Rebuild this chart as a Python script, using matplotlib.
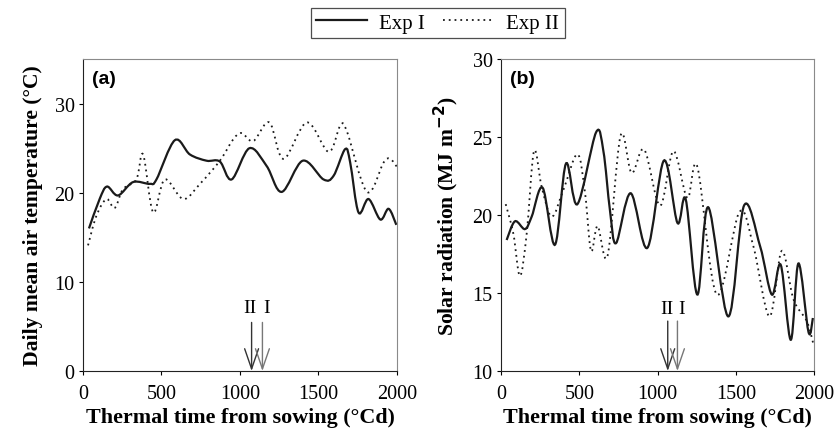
import matplotlib
matplotlib.use("Agg")
import matplotlib.pyplot as plt
from matplotlib.lines import Line2D
from matplotlib.path import Path
from matplotlib.patches import PathPatch

# (a) daily mean air temperature
tempI_x = [38, 106, 153, 223, 319, 426, 468, 585, 681, 787, 872, 947, 1060, 1170, 1266,
           1400, 1532, 1596, 1670, 1702, 1755, 1819, 1894, 1947, 1996]
tempI_y = [16.0, 19.3, 20.7, 19.7, 21.2, 21.0, 21.5, 25.9, 24.3, 23.6, 23.5, 21.5, 25.0, 23.0, 20.1,
           23.6, 21.5, 21.9, 24.9, 23.4, 17.8, 19.3, 17.0, 18.2, 16.4]
tempII_x = [32, 85, 149, 202, 255, 340, 383, 447, 521, 638, 745, 872, 957, 1011, 1085,
            1187, 1277, 1426, 1564, 1638, 1681, 1809, 1915, 1957, 2000]
tempII_y = [14.1, 17.4, 19.3, 18.3, 20.4, 21.5, 24.3, 17.8, 21.5, 19.3, 21.0, 23.6, 26.0, 26.7, 25.8,
            27.9, 23.8, 27.9, 24.6, 27.5, 26.9, 20.1, 23.4, 23.8, 22.9]

# (b) solar radiation
radI_x = [36, 89, 153, 196, 266, 345, 415, 488, 607, 654, 696, 735, 828, 935, 1041, 1127, 1180,
          1254, 1324, 1452, 1552, 1655, 1730, 1787, 1851, 1900, 1964, 1992]
radI_y = [18.4, 19.6, 19.1, 19.9, 21.75, 18.1, 23.3, 20.7, 25.3, 24.1, 20.3, 18.2, 21.4, 17.9, 23.5, 19.5, 21.0,
          14.9, 20.5, 13.5, 20.6, 18.0, 14.9, 16.8, 12.0, 16.9, 12.5, 13.4]
radII_x = [30, 79, 121, 164, 211, 260, 324, 398, 488, 537, 575, 617, 681, 764, 834, 915, 1016,
           1101, 1190, 1254, 1378, 1523, 1612, 1715, 1793, 1868, 1953, 1996]
radII_y = [20.7, 18.8, 16.1, 18.8, 24.1, 21.8, 19.9, 21.6, 23.9, 21.4, 17.7, 19.3, 17.4, 25.1, 22.7, 24.2, 20.6,
           24.1, 21.1, 23.1, 14.9, 20.2, 18.0, 13.5, 17.7, 14.6, 13.2, 11.7]

# anthesis markers (Exp II, Exp I)
marks_a = [1074, 1143]
marks_b = [1065, 1127]
mark_labels = ["II", "I"]

serif = "Liberation Serif"
sans = "Liberation Sans"
dots = (0, (1, 2.2))


def smooth_line(ax, xs, ys, **kw):
    # Excel-style smoothed line: bezier segments through the points
    n = len(xs)
    verts = [(xs[0], ys[0])]
    codes = [Path.MOVETO]
    for i in range(n - 1):
        i0 = max(i - 1, 0)
        i3 = min(i + 2, n - 1)
        c1 = (xs[i] + (xs[i + 1] - xs[i0]) / 6, ys[i] + (ys[i + 1] - ys[i0]) / 6)
        c2 = (xs[i + 1] - (xs[i3] - xs[i]) / 6, ys[i + 1] - (ys[i3] - ys[i]) / 6)
        verts += [c1, c2, (xs[i + 1], ys[i + 1])]
        codes += [Path.CURVE4] * 3
    ax.add_patch(PathPatch(Path(verts, codes), fill=False, capstyle="butt", **kw))


fig = plt.figure(figsize=(8.35, 4.35), dpi=100)
ax1 = fig.add_axes([0.0994, 0.1448, 0.376, 0.717])
ax2 = fig.add_axes([0.600, 0.1448, 0.375, 0.717])


def style(ax, ylim, yticks, ylabel, tag):
    ax.set_xlim(0, 2000)
    ax.set_ylim(*ylim)
    ax.set_xticks([0, 500, 1000, 1500, 2000])
    ax.set_yticks(yticks)
    for s in ["left", "bottom"]:
        ax.spines[s].set_color("#222222")
    for s in ["top", "right"]:
        ax.spines[s].set_color("#8a8a8a")
    ax.tick_params(direction="out", length=3, width=0.8, labelsize=14.5)
    ax.tick_params(axis="x", pad=6)
    ax.tick_params(axis="y", pad=3)
    for lab in ax.get_xticklabels() + ax.get_yticklabels():
        lab.set_family(serif)
    ax.set_xlabel("Thermal time from sowing (°Cd)", family=serif, fontweight="bold",
                  fontsize=15.8, labelpad=3.5)
    ax.set_ylabel(ylabel, family=serif, fontweight="bold", fontsize=15.6, labelpad=8)
    ax.text(0.03, 0.965, tag, transform=ax.transAxes, family=sans, fontweight="bold",
            fontsize=14, va="top", ha="left")


def arrows(ax, xs, ytop, ybot, ylab):
    for x, lab, c, dx in zip(xs, mark_labels, ["#333333", "#777777"], [-8, 25]):
        ax.annotate("", xy=(x, ybot), xytext=(x, ytop),
                    arrowprops=dict(arrowstyle="->,head_length=1.45,head_width=0.5",
                                    color=c, lw=1.0, shrinkA=0, shrinkB=0))
        ax.text(x + dx, ylab, lab, family=serif, fontsize=14, ha="center", va="center")


smooth_line(ax1, tempI_x, tempI_y, color="#1a1a1a", lw=1.6)
smooth_line(ax1, tempII_x, tempII_y, color="#1a1a1a", lw=1.3, linestyle=dots)
style(ax1, (0, 35), [0, 10, 20, 30], "Daily mean air temperature (°C)", "(a)")
arrows(ax1, marks_a, 5.45, 0, 7.1)

smooth_line(ax2, radI_x, radI_y, color="#1a1a1a", lw=1.6)
smooth_line(ax2, radII_x, radII_y, color="#1a1a1a", lw=1.3, linestyle=dots)
style(ax2, (10, 30), [10, 15, 20, 25, 30], "Solar radiation (MJ m$^{\\mathbf{-2}}$)", "(b)")
arrows(ax2, marks_b, 13.2, 10, 14.0)

handles = [Line2D([], [], color="#1a1a1a", lw=1.6),
           Line2D([], [], color="#1a1a1a", lw=1.3, linestyle=dots)]
leg = fig.legend(handles, ["Exp I", "Exp II"], loc="center", bbox_to_anchor=(0.524, 0.945),
                 ncol=2, frameon=True, fancybox=False, prop={"family": serif, "size": 15},
                 handlelength=2.45, columnspacing=0.85, borderpad=0.25, handletextpad=0.6,
                 borderaxespad=0)
leg.get_frame().set_edgecolor("#222222")
leg.get_frame().set_linewidth(0.9)

fig.savefig("out.png", dpi=100)
